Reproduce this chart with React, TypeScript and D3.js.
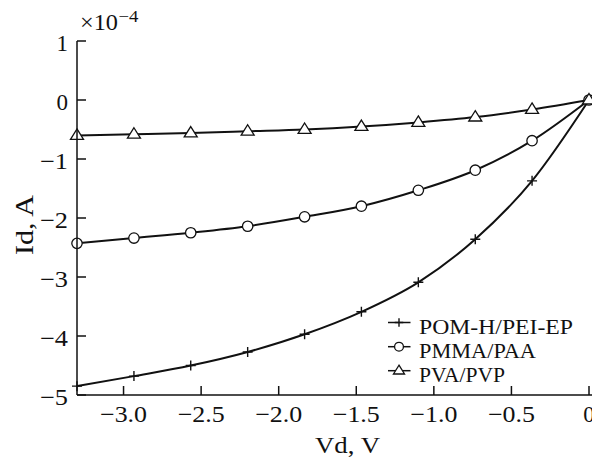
import React from "react";
import * as d3 from "d3";

const vd = [-3.3, -2.933, -2.567, -2.2, -1.833, -1.467, -1.1, -0.733, -0.367, 0];
const pomH = [-4.85, -4.68, -4.5, -4.27, -3.97, -3.59, -3.09, -2.36, -1.37, 0];
const pmma = [-2.43, -2.34, -2.25, -2.14, -1.98, -1.8, -1.53, -1.19, -0.69, 0];
const pva = [-0.6, -0.58, -0.56, -0.53, -0.5, -0.45, -0.38, -0.29, -0.16, 0];

const xTicks = [-3.0, -2.5, -2.0, -1.5, -1.0, -0.5, 0];
const yTicks = [1, 0, -1, -2, -3, -4, -5];
const seriesNames = ["POM-H/PEI-EP", "PMMA/PAA", "PVA/PVP"];

const W = 592;
const H = 462;
const FONT = "'Liberation Serif', 'Times New Roman', serif";
const INK = "#111";

const x = d3.scaleLinear().domain([-3.3, 0]).range([77, 589]);
const y = d3.scaleLinear().domain([-5, 1]).range([395, 41]);

const line = d3
  .line<[number, number]>()
  .x((d) => x(d[0]))
  .y((d) => y(d[1]))
  .curve(d3.curveMonotoneX);

const fmtX = (v: number) => (v === 0 ? "0" : "\u2212" + Math.abs(v).toFixed(1));
const fmtY = (v: number) => (v < 0 ? "\u2212" + Math.abs(v) : String(v));

// Wide lettering: stretch each label to a set advance width.
function Label({
  x: tx,
  y: ty,
  size,
  anchor = "start",
  width,
  rotate,
  children,
}: {
  x: number;
  y: number;
  size: number;
  anchor?: "start" | "middle" | "end";
  width?: number;
  rotate?: number;
  children: string;
}) {
  const extra = width ? { textLength: width, lengthAdjust: "spacingAndGlyphs" } : {};
  return (
    <text
      transform={`translate(${tx},${ty})${rotate ? ` rotate(${rotate})` : ""}`}
      textAnchor={anchor}
      fontSize={size}
      fill={INK}
      {...extra}
    >
      {children}
    </text>
  );
}

function Marker({ kind, cx, cy, small }: { kind: number; cx: number; cy: number; small?: boolean }) {
  const k = small ? 0.85 : 1;
  if (kind === 0) {
    const s = 5 * k;
    return (
      <path
        d={`M${cx - s},${cy}H${cx + s}M${cx},${cy - s}V${cy + s}`}
        stroke={INK}
        strokeWidth={1.4}
        fill="none"
      />
    );
  }
  if (kind === 1) {
    return <circle cx={cx} cy={cy} r={5.2 * k} fill="#fff" stroke={INK} strokeWidth={1.3} />;
  }
  const s = 6.5 * k;
  return (
    <path
      d={`M${cx},${cy - s}L${cx + s},${cy + s * 0.6}L${cx - s},${cy + s * 0.6}Z`}
      fill="#fff"
      stroke={INK}
      strokeWidth={1.3}
    />
  );
}

export default function App() {
  const series = [pomH, pmma, pva];
  const legendY = [322.5, 346.7, 370.7];
  const legendW = [154, 117, 86];
  const x0 = x(-3.3);
  const yb = y(-5);
  return (
    <svg
      width={W}
      height={H}
      style={{ position: "absolute", left: 0, top: 0, background: "#fff" }}
      fontFamily={FONT}
    >
      {/* series lines */}
      {series.map((vals, i) => (
        <path
          key={"l" + i}
          d={line(vd.map((v, j) => [v, vals[j]] as [number, number])) || ""}
          fill="none"
          stroke={INK}
          strokeWidth={2}
        />
      ))}
      {/* markers */}
      {series.map((vals, i) =>
        vd.map((v, j) => <Marker key={`m${i}-${j}`} kind={i} cx={x(v)} cy={y(vals[j])} />)
      )}

      {/* axes */}
      <line x1={x0} x2={x0} y1={y(1)} y2={yb} stroke={INK} strokeWidth={1.5} />
      <line x1={x0} x2={W} y1={yb} y2={yb} stroke={INK} strokeWidth={1.5} />
      {yTicks.map((t) => (
        <g key={"yt" + t}>
          <line x1={x0} x2={x0 + 9} y1={y(t)} y2={y(t)} stroke={INK} strokeWidth={1.5} />
          <Label x={68} y={y(t) + 9.5} size={23} anchor="end" width={t < 0 ? 28 : undefined}>
            {fmtY(t)}
          </Label>
        </g>
      ))}
      {xTicks.map((t) => (
        <g key={"xt" + t}>
          <line x1={x(t)} x2={x(t)} y1={yb} y2={yb - 9} stroke={INK} strokeWidth={1.5} />
          <Label x={x(t)} y={422} size={23} anchor="middle" width={t < 0 ? 47 : undefined}>
            {fmtX(t)}
          </Label>
        </g>
      ))}

      {/* multiplier */}
      <Label x={80} y={30} size={23} width={38}>
        {"\u00d710"}
      </Label>
      <Label x={118.5} y={22} size={16} width={20}>
        {"\u22124"}
      </Label>

      {/* axis titles */}
      <Label x={347.5} y={453} size={24} anchor="middle" width={65}>
        Vd, V
      </Label>
      <Label x={33} y={225} size={25} anchor="middle" width={60} rotate={-90}>
        Id, A
      </Label>

      {/* legend */}
      {seriesNames.map((name, i) => (
        <g key={"lg" + i}>
          <line x1={388} x2={410.5} y1={legendY[i]} y2={legendY[i]} stroke={INK} strokeWidth={1.5} />
          <Marker kind={i} cx={399} cy={legendY[i]} small />
          <Label x={419} y={legendY[i] + 11} size={20} width={legendW[i]}>
            {name}
          </Label>
        </g>
      ))}
    </svg>
  );
}
